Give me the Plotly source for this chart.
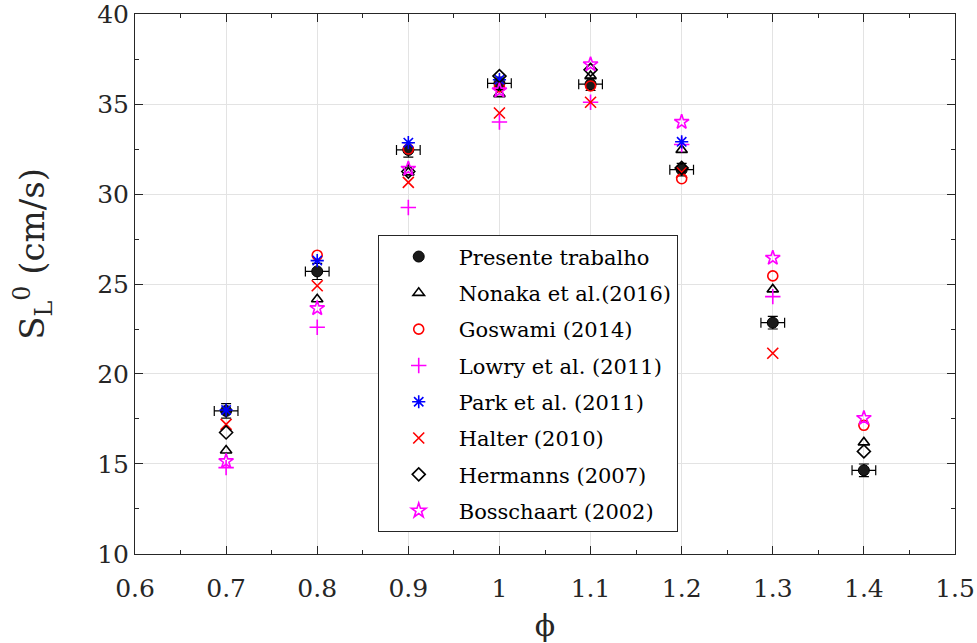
import plotly.graph_objects as go

phi = [0.7, 0.8, 0.9, 1.0, 1.1, 1.2, 1.3, 1.4]

presente = [17.95, 25.7, 32.45, 36.15, 36.1, 31.35, 22.85, 14.65]
presente_err_y = [0.4, 0.45, 0.4, 0.35, 0.35, 0.35, 0.35, 0.35]
presente_err_x = [0.013] * 8

nonaka = [15.75, 24.15, 31.2, 35.55, 36.55, 32.45, 24.7, 16.2]
goswami = [None, 26.6, 32.5, 35.95, 36.0, 30.85, 25.45, 17.15]
lowry = [14.8, 22.6, 29.25, 34.0, 35.1, 32.75, 24.3, None]
park = [18.0, 26.3, 32.85, 36.35, None, 32.9, None, None]
halter = [17.2, 24.9, 30.65, 34.5, 35.1, 31.2, 21.15, None]
hermanns = [16.75, None, 31.25, 36.55, 36.9, 31.45, None, 15.7]
bosschaart = [15.15, 23.65, 31.4, 35.75, 37.2, 34.0, 26.45, 17.55]

x_ticks = [0.6, 0.7, 0.8, 0.9, 1.0, 1.1, 1.2, 1.3, 1.4, 1.5]
x_labels = ["0.6", "0.7", "0.8", "0.9", "1", "1.1", "1.2", "1.3", "1.4", "1.5"]
y_ticks = [10, 15, 20, 25, 30, 35, 40]

FONT = "DejaVu Serif"

fig = go.Figure()

fig.add_trace(go.Scatter(
    x=phi, y=presente, mode="markers", name="Presente trabalho",
    marker=dict(symbol="circle", size=11, color="#1a1a1a",
                line=dict(color="black", width=1)),
    error_y=dict(type="data", array=presente_err_y, color="black",
                 thickness=1.2, width=5),
    error_x=dict(type="data", array=presente_err_x, color="black",
                 thickness=1.2, width=5),
    legendgroup="a"))

series = [
    ("Nonaka et al.(2016)", nonaka, "triangle-up-open", "black", 10),
    ("Goswami (2014)", goswami, "circle-open", "red", 10),
    ("Lowry et al. (2011)", lowry, "cross-thin-open", "magenta", 11),
    ("Park et al. (2011)", park, "asterisk-open", "blue", 11),
    ("Halter (2010)", halter, "x-thin-open", "red", 11),
    ("Hermanns (2007)", hermanns, "diamond-open", "black", 10),
    ("Bosschaart (2002)", bosschaart, "star-open", "magenta", 11),
]
for i, (name, vals, sym, col, sz) in enumerate(series):
    fig.add_trace(go.Scatter(
        x=phi, y=vals, mode="markers", name=name,
        marker=dict(symbol=sym, size=sz, color=col,
                    line=dict(color=col, width=1.6)),
        legendgroup="g%d" % i))

axis_common = dict(
    showline=True, linecolor="#262626", linewidth=1, mirror="ticks",
    ticks="inside", ticklen=8, tickcolor="#262626",
    showgrid=True, gridcolor="#e3e3e3", gridwidth=1,
    zeroline=False, ticklabeloverflow="allow", automargin=False,
    tickfont=dict(family=FONT, size=25, color="#262626"),
    minor=dict(ticks="inside", ticklen=4, tickcolor="#262626", showgrid=False),
)

fig.update_xaxes(range=[0.6, 1.5], tickvals=x_ticks, ticktext=x_labels,
                 minor_dtick=0.05, ticklabelstandoff=12,
                 title=dict(text="ϕ", font=dict(family=FONT, size=30, color="#262626"), standoff=20),
                 **axis_common)
fig.update_yaxes(range=[9.999, 40.001], tickvals=y_ticks, minor_dtick=2.5,
                 **axis_common)

fig.add_annotation(
    text="S<sub>L</sub><sup>0</sup> (cm/s)", textangle=-90,
    xref="paper", yref="paper", x=-0.125, y=0.555,
    xanchor="center", yanchor="middle", showarrow=False,
    font=dict(family=FONT, size=34, color="#262626"))

fig.update_layout(
    width=977, height=643,
    margin=dict(l=135, r=22, t=14, b=89, autoexpand=False),
    plot_bgcolor="white", paper_bgcolor="white",
    font=dict(family=FONT),
    showlegend=True,
    legend=dict(x=0.296, y=0.59, xanchor="left", yanchor="top",
                bgcolor="white", bordercolor="#262626", borderwidth=1,
                font=dict(family=FONT, size=21, color="black"),
                traceorder="grouped", tracegroupgap=6,
                entrywidth=238, itemwidth=70),
)

fig.write_html("out.html", config={"displayModeBar": False},
               post_script="document.body.style.margin='0';")
